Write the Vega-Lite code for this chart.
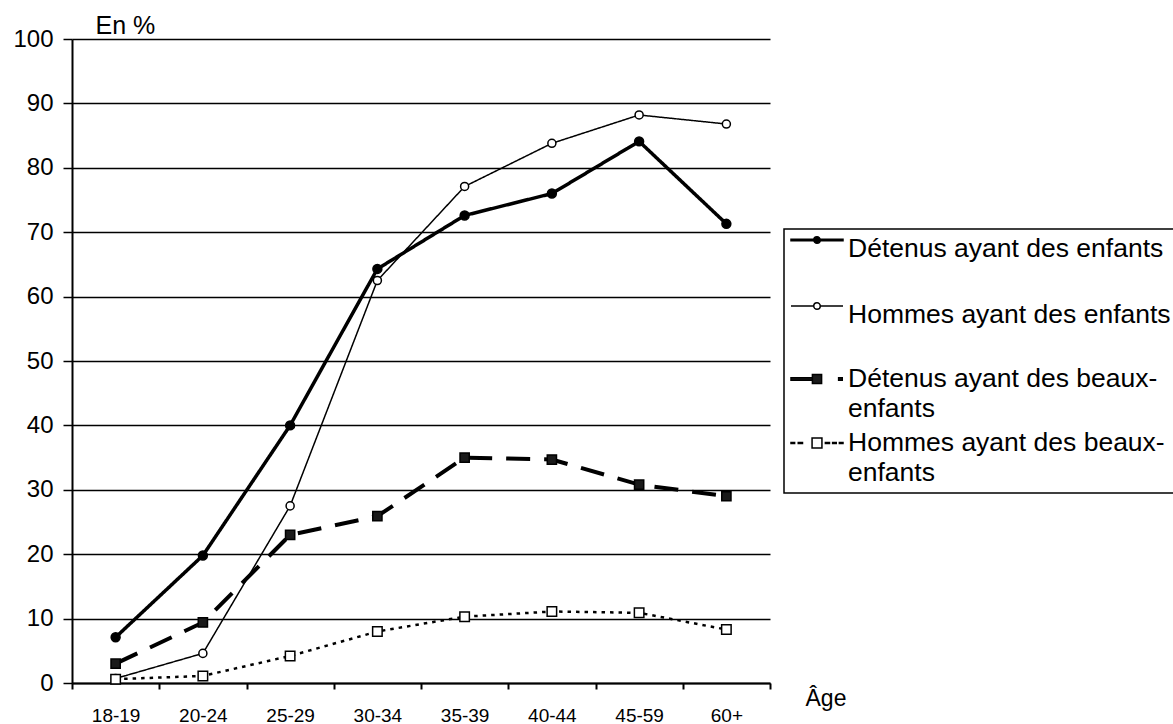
{
  "$schema": "https://vega.github.io/schema/vega-lite/v6.json",
  "width": 698,
  "height": 644,
  "autosize": {"type": "none"},
  "padding": {"left": 72, "top": 39, "right": 403, "bottom": 41},
  "background": "white",
  "config": {
    "view": {"stroke": null},
    "font": "Liberation Sans",
    "axis": {"labelFont": "Liberation Sans", "titleFont": "Liberation Sans"},
    "legend": {"strokeWidth": 1.5},
    "style": {"guide-label": {"lineHeight": 30}}
  },
  "data": {
    "values": [
      {"age": "18-19", "serie": "Détenus ayant des enfants", "pct": 7.1},
      {"age": "20-24", "serie": "Détenus ayant des enfants", "pct": 19.8},
      {"age": "25-29", "serie": "Détenus ayant des enfants", "pct": 40.0},
      {"age": "30-34", "serie": "Détenus ayant des enfants", "pct": 64.3},
      {"age": "35-39", "serie": "Détenus ayant des enfants", "pct": 72.6},
      {"age": "40-44", "serie": "Détenus ayant des enfants", "pct": 76.0},
      {"age": "45-59", "serie": "Détenus ayant des enfants", "pct": 84.1},
      {"age": "60+", "serie": "Détenus ayant des enfants", "pct": 71.3},
      {"age": "18-19", "serie": "Hommes ayant des enfants", "pct": 0.7},
      {"age": "20-24", "serie": "Hommes ayant des enfants", "pct": 4.6},
      {"age": "25-29", "serie": "Hommes ayant des enfants", "pct": 27.5},
      {"age": "30-34", "serie": "Hommes ayant des enfants", "pct": 62.5},
      {"age": "35-39", "serie": "Hommes ayant des enfants", "pct": 77.1},
      {"age": "40-44", "serie": "Hommes ayant des enfants", "pct": 83.8},
      {"age": "45-59", "serie": "Hommes ayant des enfants", "pct": 88.2},
      {"age": "60+", "serie": "Hommes ayant des enfants", "pct": 86.8},
      {"age": "18-19", "serie": "Détenus ayant des beaux-enfants", "pct": 3.0},
      {"age": "20-24", "serie": "Détenus ayant des beaux-enfants", "pct": 9.4},
      {"age": "25-29", "serie": "Détenus ayant des beaux-enfants", "pct": 23.0},
      {"age": "30-34", "serie": "Détenus ayant des beaux-enfants", "pct": 25.9},
      {"age": "35-39", "serie": "Détenus ayant des beaux-enfants", "pct": 35.0},
      {"age": "40-44", "serie": "Détenus ayant des beaux-enfants", "pct": 34.7},
      {"age": "45-59", "serie": "Détenus ayant des beaux-enfants", "pct": 30.8},
      {"age": "60+", "serie": "Détenus ayant des beaux-enfants", "pct": 29.0},
      {"age": "18-19", "serie": "Hommes ayant des beaux-enfants", "pct": 0.6},
      {"age": "20-24", "serie": "Hommes ayant des beaux-enfants", "pct": 1.1},
      {"age": "25-29", "serie": "Hommes ayant des beaux-enfants", "pct": 4.2},
      {"age": "30-34", "serie": "Hommes ayant des beaux-enfants", "pct": 8.0},
      {"age": "35-39", "serie": "Hommes ayant des beaux-enfants", "pct": 10.3},
      {"age": "40-44", "serie": "Hommes ayant des beaux-enfants", "pct": 11.1},
      {"age": "45-59", "serie": "Hommes ayant des beaux-enfants", "pct": 10.9},
      {"age": "60+", "serie": "Hommes ayant des beaux-enfants", "pct": 8.3}
    ]
  },
  "encoding": {
    "x": {
      "field": "age",
      "type": "ordinal",
      "sort": ["18-19", "20-24", "25-29", "30-34", "35-39", "40-44", "45-59", "60+"],
      "scale": {"type": "band", "paddingInner": 0, "paddingOuter": 0},
      "axis": {
        "title": "Âge",
        "titleX": 733,
        "titleY": 22,
        "titleAlign": "left",
        "titleBaseline": "alphabetic",
        "titleFontSize": 23,
        "titleFontWeight": "normal",
        "titleColor": "black",
        "labelAngle": 0,
        "labelFontSize": 19,
        "labelColor": "black",
        "labelPadding": 17,
        "tickBand": "extent",
        "tickSize": 6,
        "tickWidth": 2,
        "tickColor": "black",
        "domainColor": "black",
        "domainWidth": 2,
        "grid": false
      }
    },
    "y": {
      "field": "pct",
      "type": "quantitative",
      "scale": {"domain": [0, 100], "nice": false},
      "axis": {
        "values": [0, 10, 20, 30, 40, 50, 60, 70, 80, 90, 100],
        "title": "En %",
        "titleAngle": 0,
        "titleX": 23,
        "titleY": -6,
        "titleAlign": "left",
        "titleBaseline": "alphabetic",
        "titleFontSize": 25,
        "titleFontWeight": "normal",
        "titleColor": "black",
        "labelFontSize": 24,
        "labelColor": "black",
        "labelPadding": 10,
        "labelFlush": false,
        "labelOverlap": false,
        "tickSize": 9,
        "tickWidth": 1.5,
        "tickColor": "black",
        "domainColor": "black",
        "domainWidth": 2,
        "grid": true,
        "gridColor": "black",
        "gridWidth": 1.5,
        "gridOpacity": 1
      }
    }
  },
  "layer": [
    {
      "mark": {"type": "line", "color": "black", "strokeCap": "butt"},
      "encoding": {
        "strokeWidth": {
          "field": "serie",
          "type": "nominal",
          "sort": ["Détenus ayant des enfants", "Hommes ayant des enfants", "Détenus ayant des beaux-enfants", "Hommes ayant des beaux-enfants"],
          "scale": {"type": "ordinal", "range": [3.5, 1.5, 4, 2.5]},
          "legend": null
        },
        "strokeDash": {
          "field": "serie",
          "type": "nominal",
          "sort": ["Détenus ayant des enfants", "Hommes ayant des enfants", "Détenus ayant des beaux-enfants", "Hommes ayant des beaux-enfants"],
          "scale": {"range": [[1, 0], [1, 0], [24, 14], [3.5, 5]]},
          "legend": null
        }
      }
    },
    {
      "transform": [{"filter": {"field": "serie", "equal": "Détenus ayant des enfants"}}],
      "mark": {"type": "point", "shape": "circle", "filled": true, "fill": "black", "stroke": "black", "strokeWidth": 1.5, "size": 80, "opacity": 1}
    },
    {
      "transform": [{"filter": {"field": "serie", "equal": "Hommes ayant des enfants"}}],
      "mark": {"type": "point", "shape": "circle", "filled": true, "fill": "white", "stroke": "black", "strokeWidth": 1.5, "size": 65, "opacity": 1}
    },
    {
      "transform": [{"filter": {"field": "serie", "equal": "Détenus ayant des beaux-enfants"}}],
      "mark": {"type": "point", "shape": "square", "filled": true, "fill": "#1a1a1a", "stroke": "black", "strokeWidth": 1.5, "size": 85, "opacity": 1}
    },
    {
      "transform": [{"filter": {"field": "serie", "equal": "Hommes ayant des beaux-enfants"}}],
      "mark": {"type": "point", "shape": "square", "filled": true, "fill": "white", "stroke": "black", "strokeWidth": 1.5, "size": 90, "opacity": 1}
    },
    {
      "transform": [{"filter": "false"}],
      "mark": {"type": "point", "filled": true, "stroke": "black", "strokeWidth": 1.5, "opacity": 1},
      "encoding": {
        "shape": {
          "field": "serie",
          "type": "nominal",
          "scale": {
            "domain": ["Détenus ayant des enfants", "Hommes ayant des enfants", "Détenus ayant des beaux-enfants", "Hommes ayant des beaux-enfants"],
            "range": [
              "M-2.08,-0.78H2.08V-0.66H-2.08Z M0.26,-0.72A0.26,0.26,0,1,1,-0.26,-0.72A0.26,0.26,0,1,1,0.26,-0.72Z",
              "M-2.08,-0.72H-0.26M0.26,-0.72H2.08M0.26,-0.72A0.26,0.26,0,1,1,-0.26,-0.72A0.26,0.26,0,1,1,0.26,-0.72Z",
              "M-2.08,-0.1H-0.368V0.1H-2.08Z M-0.368,-0.368H0.368V0.368H-0.368Z M1.73,-0.1H2.02V0.1H1.73Z",
              "M-2.08,-0.048H-1.79V0.048H-2.08Z M-1.5,-0.048H-1.16V0.048H-1.5Z M-0.395,-0.395H0.395V0.395H-0.395Z M0.67,-0.048H1V0.048H0.67Z M1.25,-0.048H1.54V0.048H1.25Z M1.79,-0.048H2.08V0.048H1.79Z"
            ]
          },
          "legend": {
            "orient": "none",
            "legendX": 712,
            "legendY": 190,
            "direction": "vertical",
            "title": null,
            "symbolSize": 625,
            "symbolStrokeWidth": 1.5,
            "symbolStrokeColor": "black",
            "symbolOpacity": 1,
            "symbolOffset": 13,
            "labelFont": "Liberation Sans",
            "labelFontSize": 26.5,
            "labelColor": "black",
            "labelLimit": 1000,
            "labelOffset": 17.5,
            "labelExpr": "indexof(datum.label, 'beaux') >= 0 ? [replace(datum.label, 'enfants', ''), 'enfants'] : [datum.label, '']",
            "rowPadding": 7,
            "padding": 6.5,
            "strokeColor": "black",
            "fillColor": "white"
          }
        },
        "fill": {
          "field": "serie",
          "type": "nominal",
          "scale": {
            "domain": ["Détenus ayant des enfants", "Hommes ayant des enfants", "Détenus ayant des beaux-enfants", "Hommes ayant des beaux-enfants"],
            "range": ["black", "white", "#1a1a1a", "white"]
          }
        },
        "stroke": {
          "field": "serie",
          "type": "nominal",
          "scale": {
            "domain": ["Détenus ayant des enfants", "Hommes ayant des enfants", "Détenus ayant des beaux-enfants", "Hommes ayant des beaux-enfants"],
            "range": ["black", "black", "black", "black"]
          }
        }
      }
    }
  ]
}
